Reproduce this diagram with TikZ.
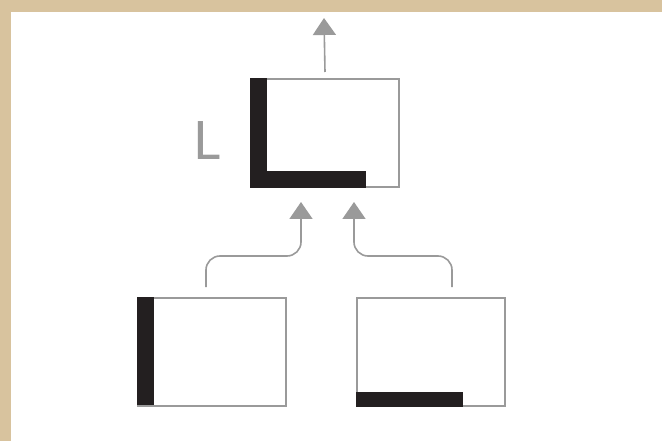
\documentclass[tikz,border=0pt]{standalone}
\usepackage{fontspec}
\usetikzlibrary{arrows.meta}

\definecolor{paper}{RGB}{216,195,158}
\definecolor{frame}{RGB}{154,154,154}
\definecolor{ink}{RGB}{35,31,32}

\begin{document}
\begin{tikzpicture}[x=1pt,y=-1pt,
		cell/.style={rectangle, draw=frame, line width=2pt, minimum width=148pt, minimum height=108pt, inner sep=0pt, anchor=north west},
		bar/.style={fill=ink},
		flow/.style={draw=frame, line width=1.6pt, -{Triangle[width=23pt,length=17pt]}, rounded corners=14pt}]
		\fill[paper] (0,0) rectangle (662,441);
		\fill[white] (11,12) rectangle (662,441);
		
		\node[cell] (merged) at (250,78) {};
		\node[cell] (left) at (137,297) {};
		\node[cell] (right) at (356,297) {};
		
		% thick edges kept by each cell
		\fill[bar] (merged.north west) rectangle ++(17,109);
		\fill[bar] (merged.south west) rectangle ++(116,-17);
		\fill[bar] (left.north west) rectangle ++(17,108);
		\fill[bar] (right.south west) rectangle ++(107,-15);
		
		\node[text=frame, font=\fontspec{Lato}\fontsize{53}{53}\selectfont, anchor=base west, inner sep=0pt] (label) at (193,160) {L};
		
		\coordinate (out) at (324,18);
		\coordinate (inL) at (301,202);
		\coordinate (inR) at (354,202);
		\draw[flow] ([yshift=6pt]merged.north) -- (out);
		\draw[flow] ([xshift=-6pt,yshift=10pt]left.north) |- ([yshift=-54pt]inL) -- (inL);
		\draw[flow] ([xshift=21pt,yshift=10pt]right.north) |- ([yshift=-54pt]inR) -- (inR);
		
\end{tikzpicture}
\end{document}
